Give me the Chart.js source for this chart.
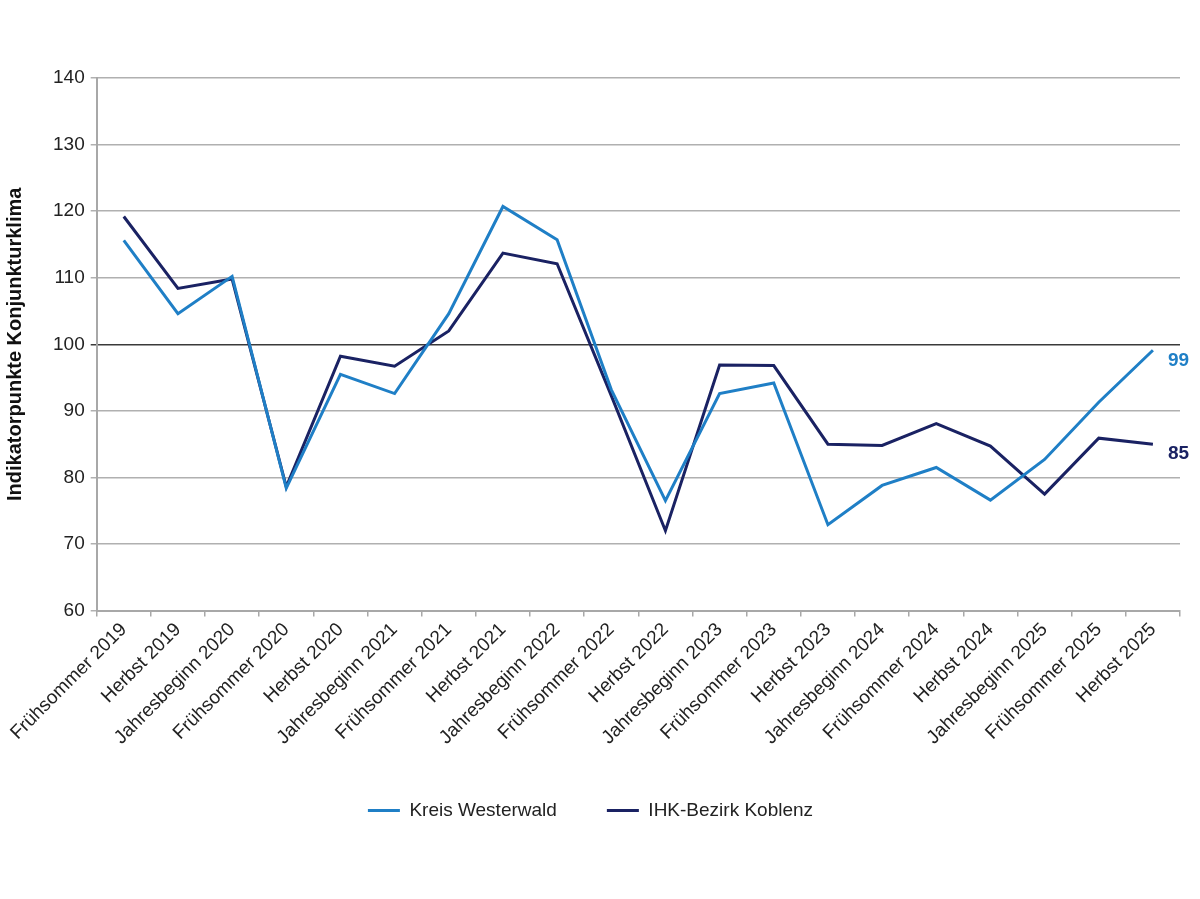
<!DOCTYPE html>
<html>
<head>
<meta charset="utf-8">
<script src="https://cdn.jsdelivr.net/npm/chart.js@4/dist/chart.umd.min.js"></script>
<style>
  html, body { margin: 0; padding: 0; background: #fff; }
  #wrap { width: 1200px; height: 899px; position: relative; }
</style>
</head>
<body>
<div id="wrap"><canvas id="chart"></canvas></div>
<script>
// Daten
const labels = [
  "Frühsommer 2019", "Herbst 2019", "Jahresbeginn 2020", "Frühsommer 2020",
  "Herbst 2020", "Jahresbeginn 2021", "Frühsommer 2021", "Herbst 2021",
  "Jahresbeginn 2022", "Frühsommer 2022", "Herbst 2022", "Jahresbeginn 2023",
  "Frühsommer 2023", "Herbst 2023", "Jahresbeginn 2024", "Frühsommer 2024",
  "Herbst 2024", "Jahresbeginn 2025", "Frühsommer 2025", "Herbst 2025"
];
const westerwald = [115.6, 104.6, 110.2, 78.4, 95.5, 92.6, 104.6, 120.7, 115.7, 93.2,
  76.5, 92.6, 94.2, 72.9, 78.8, 81.5, 76.6, 82.7, 91.3, 99.1];
const koblenz = [119.2, 108.4, 109.8, 78.6, 98.2, 96.7, 102.0, 113.7, 112.1, 92.3,
  72.0, 96.9, 96.8, 85.0, 84.8, 88.1, 84.7, 77.5, 85.9, 85.0];
const endLabels = ["99", "85"];

const FONT = "'Liberation Sans', Arial, sans-serif";
const LIGHT = "#1f7fc6";
const DARK = "#1a2263";

// Endwerte rechts neben der Linie
const endLabelPlugin = {
  id: "endLabels",
  afterDatasetsDraw(chart) {
    const { ctx } = chart;
    chart.data.datasets.forEach((ds, i) => {
      const meta = chart.getDatasetMeta(i);
      const pt = meta.data[meta.data.length - 1];
      ctx.save();
      ctx.font = "bold 19px " + FONT;
      ctx.fillStyle = ds.borderColor;
      ctx.textBaseline = "middle";
      ctx.fillText(endLabels[i], pt.x + 15, pt.y + 10);
      ctx.restore();
    });
  },
};

new Chart(document.getElementById("chart"), {
  type: "line",
  data: {
    labels,
    datasets: [
      {
        label: "Kreis Westerwald",
        data: westerwald,
        borderColor: LIGHT,
        backgroundColor: LIGHT,
        borderWidth: 3,
        pointRadius: 0,
        tension: 0,
      },
      {
        label: "IHK-Bezirk Koblenz",
        data: koblenz,
        borderColor: DARK,
        backgroundColor: DARK,
        borderWidth: 3,
        pointRadius: 0,
        tension: 0,
      },
    ],
  },
  options: {
    responsive: true,
    maintainAspectRatio: false,
    animation: false,
    layout: { padding: { top: 78, right: 20, bottom: 69, left: 1 } },
    plugins: {
      tooltip: { enabled: false },
      legend: {
        position: "bottom",
        labels: {
          color: "#222",
          font: { family: FONT, size: 19 },
          boxWidth: 32,
          boxHeight: 3,
          padding: 50,
          // nur die Linie, ohne Rahmen
          generateLabels(chart) {
            return Chart.defaults.plugins.legend.labels
              .generateLabels(chart)
              .map((l) => ({ ...l, lineWidth: 0 }));
          },
        },
      },
    },
    scales: {
      x: {
        offset: true,
        grid: {
          offset: true,
          drawOnChartArea: false,
          color: "#a8a8a8",
          lineWidth: 1.5,
          tickLength: 6,
        },
        border: { color: "#a8a8a8", width: 2 },
        ticks: {
          color: "#222",
          font: { family: FONT, size: 19 },
          maxRotation: 45,
          minRotation: 45,
          autoSkip: false,
          padding: 2,
        },
      },
      y: {
        min: 60,
        max: 140,
        ticks: {
          stepSize: 10,
          color: "#222",
          font: { family: FONT, size: 19 },
          padding: 6,
        },
        grid: {
          color: (c) => (c.tick && c.tick.value === 100 ? "#3a3a3a" : "#b0b0b0"),
          lineWidth: 1.5,
          tickLength: 6,
        },
        border: { color: "#a8a8a8", width: 2 },
        title: {
          display: true,
          text: "Indikatorpunkte Konjunkturklima",
          color: "#111",
          font: { family: FONT, size: 20, weight: "bold" },
          padding: { top: 2, bottom: 20 },
        },
      },
    },
  },
  plugins: [endLabelPlugin],
});
</script>
</body>
</html>
